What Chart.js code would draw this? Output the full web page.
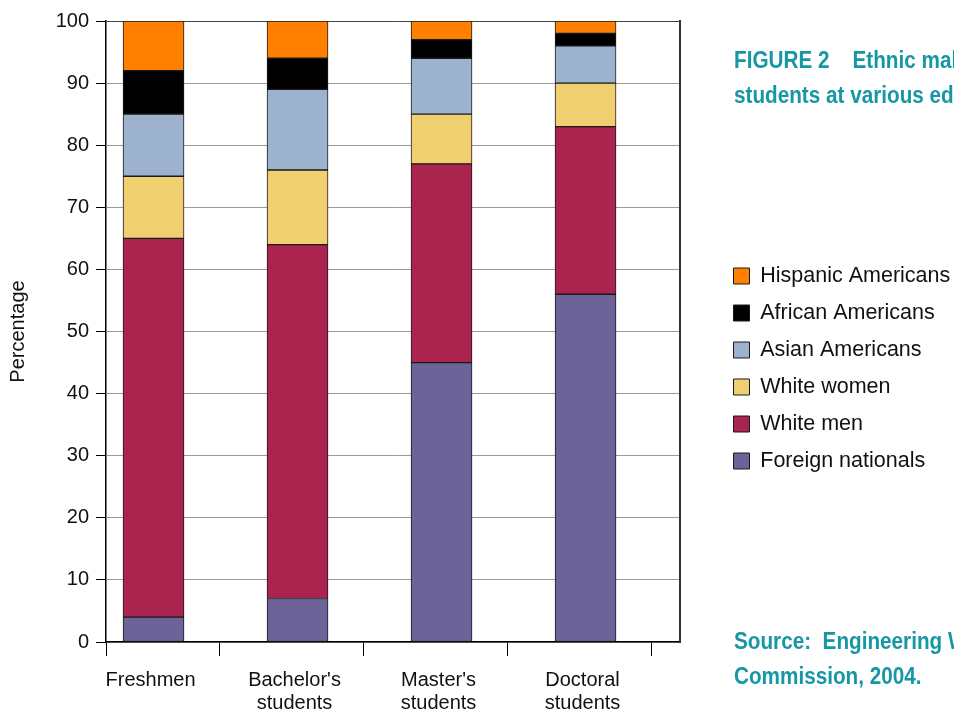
<!DOCTYPE html>
<html>
<head>
<meta charset="utf-8">
<script src="https://cdn.jsdelivr.net/npm/chart.js@4.4.1/dist/chart.umd.min.js"></script>
<style>
  html, body { margin: 0; padding: 0; background: #fff; overflow: hidden; }
  #wrap { position: relative; width: 954px; height: 711px; overflow: hidden; }
  #wrap canvas { position: absolute; left: 0; top: 0; }
  .note {
    position: absolute; left: 734px; white-space: nowrap;
    font-family: "Liberation Sans", Arial, sans-serif;
    font-weight: bold; font-size: 23px; line-height: 35px; color: #1697a6;
    transform: scaleX(0.9); transform-origin: 0 0;
  }
</style>
</head>
<body>
<div id="wrap">
  <canvas id="c" width="954" height="711"></canvas>
  <div class="note" style="top:43px;">FIGURE 2&nbsp;&nbsp;&nbsp; Ethnic makeup of engineering<br>students at various educational levels</div>
  <div class="note" style="top:624px;">Source:&nbsp;&nbsp;Engineering Workforce<br>Commission, 2004.</div>
</div>
<script>
// ---- data ----
const categories = [["Freshmen"], ["Bachelor's", "students"], ["Master's", "students"], ["Doctoral", "students"]];
const seriesNames = ["Foreign nationals", "White men", "White women", "Asian Americans", "African Americans", "Hispanic Americans"];
const foreignNationals = [4, 7, 45, 56];
const whiteMen = [61, 57, 32, 27];
const whiteWomen = [10, 12, 8, 7];
const asianAmericans = [10, 13, 9, 6];
const africanAmericans = [7, 5, 3, 2];
const hispanicAmericans = [8, 6, 3, 2];
const yTicks = [0, 10, 20, 30, 40, 50, 60, 70, 80, 90, 100];

const seriesValues = [foreignNationals, whiteMen, whiteWomen, asianAmericans, africanAmericans, hispanicAmericans];
const seriesColors = ["#6c6399", "#ab234f", "#f0cf70", "#9db2cf", "#000000", "#ff8000"];

const X_MIN = -0.33, X_MAX = 3.656;
const BOUNDARY = 0.46;  // category separator tick offset from bar centre
const xTickValues = [X_MIN, 0, BOUNDARY, 1, 1 + BOUNDARY, 2, 2 + BOUNDARY, 3, 3 + BOUNDARY];

const datasets = seriesNames.map((name, s) => ({
  label: name,
  data: seriesValues[s].map((v, i) => ({ x: i, y: v })),
  backgroundColor: seriesColors[s],
  borderColor: "#1a1a1a",
  borderWidth: 1,
  borderSkipped: false,
  barThickness: 61
}));

const legendFit = {
  id: 'legendFit',
  beforeLayout(chart) {
    const lg = chart.legend;
    if (lg && !lg._patched) {
      const orig = lg.fit;
      lg.fit = function () { orig.call(this); this.width = 236; };
      lg._patched = true;
    }
  }
};

const FONT = "'Liberation Sans', Arial, Helvetica, sans-serif";
const isCat = v => Math.abs(v - Math.round(v)) < 1e-9;

new Chart(document.getElementById('c'), {
  type: 'bar',
  data: { datasets },
  plugins: [legendFit],
  options: {
    responsive: false,
    animation: false,
    layout: { padding: { top: 21, right: 0, bottom: 0, left: 0 } },
    plugins: {
      tooltip: { enabled: false },
      legend: {
        position: 'right',
        align: 'center',
        reverse: true,
        title: { display: true, text: '', font: { size: 5, lineHeight: 1 }, padding: 0 },
        labels: {
          boxWidth: 16, boxHeight: 16, padding: 15.5,
          color: '#111',
          font: { family: FONT, size: 21.5 }
        }
      }
    },
    scales: {
      x: {
        type: 'linear',
        stacked: true,
        offset: false,
        min: X_MIN, max: X_MAX,
        afterBuildTicks(scale) { scale.ticks = xTickValues.map(v => ({ value: v })); },
        afterFit(scale) { scale.height = 69; },
        grid: {
          offset: false,
          drawOnChartArea: false,
          tickLength: 14,
          tickColor: ctx => (ctx.tick && isCat(ctx.tick.value)) ? 'rgba(0,0,0,0)' : '#000',
          tickWidth: 1
        },
        border: { color: '#000', width: 1.5 },
        ticks: {
          autoSkip: false, maxRotation: 0, minRotation: 0, padding: 13, labelOffset: -3,
          color: '#111',
          font: { family: FONT, size: 20, lineHeight: 1.15 },
          callback: (v) => isCat(v) ? categories[Math.round(v)] : ''
        }
      },
      y: {
        stacked: true,
        min: 0, max: 100,
        afterBuildTicks(scale) { scale.ticks = yTicks.map(v => ({ value: v })); },
        afterFit(scale) { scale.width = 106; },
        grid: {
          color: ctx => (ctx.tick && ctx.tick.value === 100) ? '#444' : '#9a9a9a',
          lineWidth: 1,
          tickLength: 10,
          tickColor: '#000'
        },
        border: { color: '#000', width: 1.5 },
        ticks: { padding: 7, color: '#111', font: { family: FONT, size: 20 } },
        title: {
          display: true, text: 'Percentage', color: '#111',
          font: { family: FONT, size: 20 },
          padding: { top: 6, bottom: 4 }
        }
      },
      y2: {
        position: 'right',
        min: 0, max: 100,
        afterFit(scale) { scale.width = 38; },
        grid: { drawOnChartArea: false, drawTicks: false },
        border: { color: '#333', width: 2 },
        ticks: { display: false }
      }
    }
  }
});
</script>
</body>
</html>
